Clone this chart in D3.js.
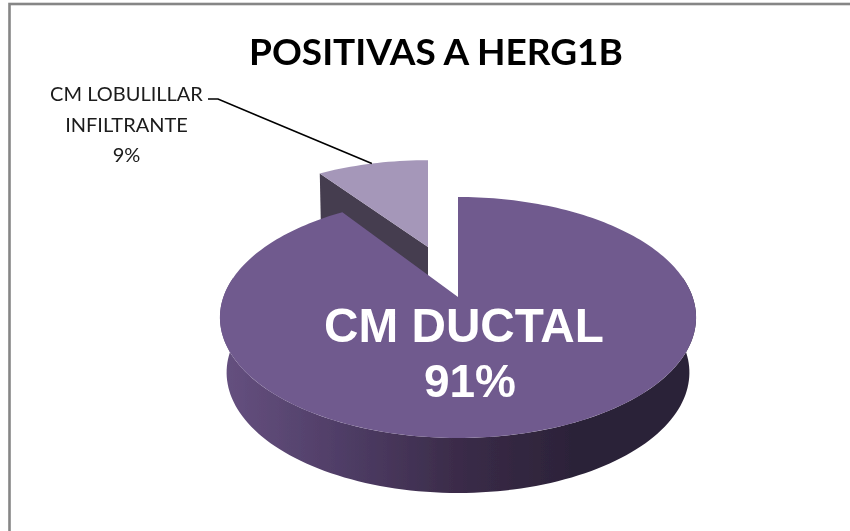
<!DOCTYPE html>
<html><head><meta charset="utf-8">
<script src="https://cdn.jsdelivr.net/npm/d3@7"></script>
<style>html,body{margin:0;padding:0;background:#fff}svg{display:block}</style></head>
<body><svg id="c" width="850" height="531"></svg>
<script>
const titleText = "POSITIVAS A HERG1B";
const categories = ["CM DUCTAL", "CM LOBULILLAR INFILTRANTE"];
const values = [91, 9];
const labelLines = [["CM DUCTAL", "91%"], ["CM LOBULILLAR", "INFILTRANTE", "9%"]];
const colors = { top: ["#705a8e", "#a597b9"], cut: "#453c4f", sideStops: ["#65507f", "#4f3d66", "#3a2b48", "#2b2238", "#2c2339"], frame: "#868686" };

const W = 850, H = 531;
const svg = d3.select("#c");
const defs = svg.append("defs");
defs.append("filter").attr("id", "soft").attr("x", 0).attr("y", 0).attr("width", 1).attr("height", 1)
  .attr("filterUnits", "objectBoundingBox")
  .append("feGaussianBlur").attr("stdDeviation", 0.45);
const root = svg.append("g").attr("filter", "url(#soft)");
root.append("rect").attr("width", W).attr("height", H).attr("fill", "#fff");

// perspective projection of the unit disc
const cx = 458, cy = 297, R = 234.6, S = 117, P = 0.17, depth = 55, shrink = 0.972;
const project = (u, v) => [cx + R * u / (1 - P * v), cy + S * v / (1 - P * v)];
const rim = a => { const b = a + 0.035 * Math.sin(2 * a); return [Math.sin(b), -Math.cos(b)]; };
const lowered = ([x, y]) => [cx + (x - cx) * shrink, y + depth];

const pie = d3.pie().sort(null)(values);
const line = d3.line();

root.append("rect").attr("x", 9.5).attr("y", 4).attr("width", W + 20).attr("height", H + 20)
  .attr("fill", "#fff").attr("stroke", colors.frame).attr("stroke-width", 2.6);

// exploded slice: cut face behind, then top
const small = pie[1];
const offV = -0.46, offX = -30;
const expl = (u, v) => { const p = project(u, v + offV); return [p[0] + offX, p[1]]; };
const smallArc = d3.range(0, 21).map(i => {
  const a = small.startAngle + (small.endAngle - small.startAngle) * i / 20;
  const [u, v] = rim(a); return expl(u, v);
});
const apex = expl(0, 0);
const startPt = smallArc[0];
const cutDepth = 46;
root.append("path").attr("d", line([startPt, apex, [apex[0], apex[1] + cutDepth], [startPt[0] + 1, startPt[1] + cutDepth]]) + "Z")
  .attr("fill", colors.cut);
root.append("path").attr("d", line([apex, ...smallArc]) + "Z").attr("fill", colors.top[1]);

// big slice: side wall
const big = pie[0];
const grad = defs.append("linearGradient").attr("id", "side")
  .attr("gradientUnits", "userSpaceOnUse").attr("x1", 225).attr("x2", 697).attr("y1", 0).attr("y2", 0);
colors.sideStops.forEach((c, i) => grad.append("stop").attr("offset", i / (colors.sideStops.length - 1)).attr("stop-color", c));

const frontStart = Math.PI / 2 - 0.17, frontEnd = 3 * Math.PI / 2 + 0.17;
const frontAngles = d3.range(0, 121).map(i => frontStart + (frontEnd - frontStart) * i / 120);
const topFront = frontAngles.map(a => project(Math.sin(a), -Math.cos(a)));
const botFront = topFront.map(lowered);
root.append("path").attr("d", line([...topFront, ...botFront.reverse()]) + "Z").attr("fill", "url(#side)");

// big slice: top
const bigArc = d3.range(0, 241).map(i => {
  const a = big.startAngle + (big.endAngle - big.startAngle) * i / 240;
  return project(...rim(a));
});
root.append("path").attr("d", line([project(0, 0), ...bigArc]) + "Z").attr("fill", colors.top[0]);

// title
root.append("text").attr("x", 436).attr("y", 65).attr("text-anchor", "middle")
  .attr("font-family", "Lato").attr("font-weight", 700).attr("font-size", 37).attr("fill", "#000").text(titleText);

// outer label
const lab = root.append("g").attr("font-family", "Lato").attr("font-size", 20).attr("fill", "#1a1a1a").attr("text-anchor", "middle");
labelLines[1].forEach((t, i) => lab.append("text").attr("x", 126.5).attr("y", 101 + i * 30.5).text(t));
const leaderEnd = smallArc[10];
root.append("path").attr("d", line([[208, 99], [218, 99], leaderEnd])).attr("fill", "none").attr("stroke", "#000").attr("stroke-width", 1.6);

// inner label
const inner = root.append("g").attr("font-family", "Liberation Sans").attr("font-weight", 700).attr("fill", "#fff").attr("text-anchor", "middle");
inner.append("text").attr("x", 464).attr("y", 342).attr("font-size", 47.7).text(labelLines[0][0]);
inner.append("text").attr("x", 470).attr("y", 397).attr("font-size", 46).text(labelLines[0][1]);
</script></body></html>
